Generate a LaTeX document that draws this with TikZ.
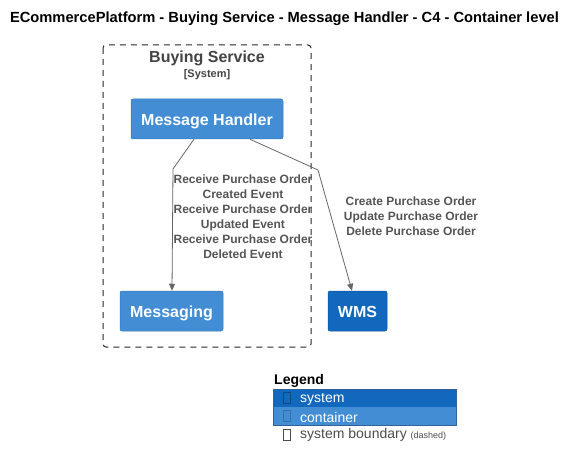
\documentclass[tikz,border=0pt]{standalone}
\usepackage{fontspec}
\setmainfont{Liberation Sans}
\usetikzlibrary{arrows.meta}
\definecolor{sysblue}{HTML}{1168BD}
\definecolor{contblue}{HTML}{438DD5}
\definecolor{lblgray}{HTML}{555555}
\definecolor{arrgray}{HTML}{666666}
\definecolor{bndgray}{HTML}{444444}
\tikzset{
  x=1pt, y=-1pt,
  box/.style={draw=#1!85!black, fill=#1, rounded corners=2pt, text=white, font=\fontsize{16}{19}\selectfont\bfseries, inner sep=0pt, line width=0.5pt, text height=13.5pt, text depth=0pt},
  rel/.style={draw=arrgray, line width=0.8pt, -{Triangle[length=7pt,width=6pt]}},
  rellbl/.style={text=lblgray, font=\fontsize{12}{15}\selectfont\bfseries, align=center, inner sep=0pt},
  legrow/.style={font=\fontsize{14}{16}\selectfont, anchor=west, inner sep=0pt},
  tofu/.style={draw=#1, line width=0.5pt, minimum width=7pt, minimum height=11pt, inner sep=0pt},
}
\begin{document}
\begin{tikzpicture}
\useasboundingbox (0,0) rectangle (576,468);
\node[font=\fontsize{14.7}{17}\selectfont\bfseries, inner sep=0pt] (title) at (284.5,19) {ECommercePlatform - Buying Service - Message Handler - C4 - Container level};
% boundary
\draw[draw=black!85, dash pattern=on 6pt off 5pt, rounded corners=3pt, line width=1pt] (103,45) rectangle (311,347);
\node[text=bndgray, font=\fontsize{16}{19}\selectfont\bfseries, inner sep=0pt] (bname) at (207,58) {Buying Service};
\node[text=bndgray, font=\fontsize{11}{13}\selectfont\bfseries, inner sep=0pt] (btype) at (207,75) {[System]};
% nodes
\node[box=contblue, minimum width=152pt, minimum height=40pt] (mh) at (207,119) {Message Handler};
\node[box=contblue, minimum width=103pt, minimum height=40pt] (msg) at (171.5,311) {Messaging};
\node[box=sysblue, minimum width=59pt, minimum height=40pt] (wms) at (357.5,311) {WMS};
% relations
\coordinate (b1) at (173,169);
\coordinate (b2) at (318,170);
\draw[rel] (mh.south -| 194,0) -- (b1) -- (msg.north -| 172,0);
\draw[rel] (mh.south -| 250,0) -- (b2) -- (wms.north -| 352,0);
\node[rellbl] (l1) at (243,216.5) {Receive Purchase Order\\Created Event\\Receive Purchase Order\\Updated Event\\Receive Purchase Order\\Deleted Event};
\node[rellbl] (l2) at (411,216) {Create Purchase Order\\Update Purchase Order\\Delete Purchase Order};
% legend
\node[font=\fontsize{14}{16}\selectfont\bfseries, anchor=west, inner sep=0pt] (leg) at (274,381) {Legend};
\fill[sysblue] (273,389) rectangle (456,407);
\fill[contblue] (273,407) rectangle (456,425);
\draw[contblue!70!black, line width=0.5pt] (273,389) rectangle (456,425);
\node[tofu=sysblue!70!black] (t1) at (287,398) {};
\node[tofu=contblue!80!black] (t2) at (287,416) {};
\node[tofu=black!70] (t3) at (287,435) {};
\node[legrow, text=white] (s1) at (300,399) {system};
\node[legrow, text=white] (s2) at (300,417) {container};
\node[legrow, text=black!70] (s3) at (300,435) {system boundary \fontsize{9}{11}\selectfont(dashed)};
\end{tikzpicture}
\end{document}
